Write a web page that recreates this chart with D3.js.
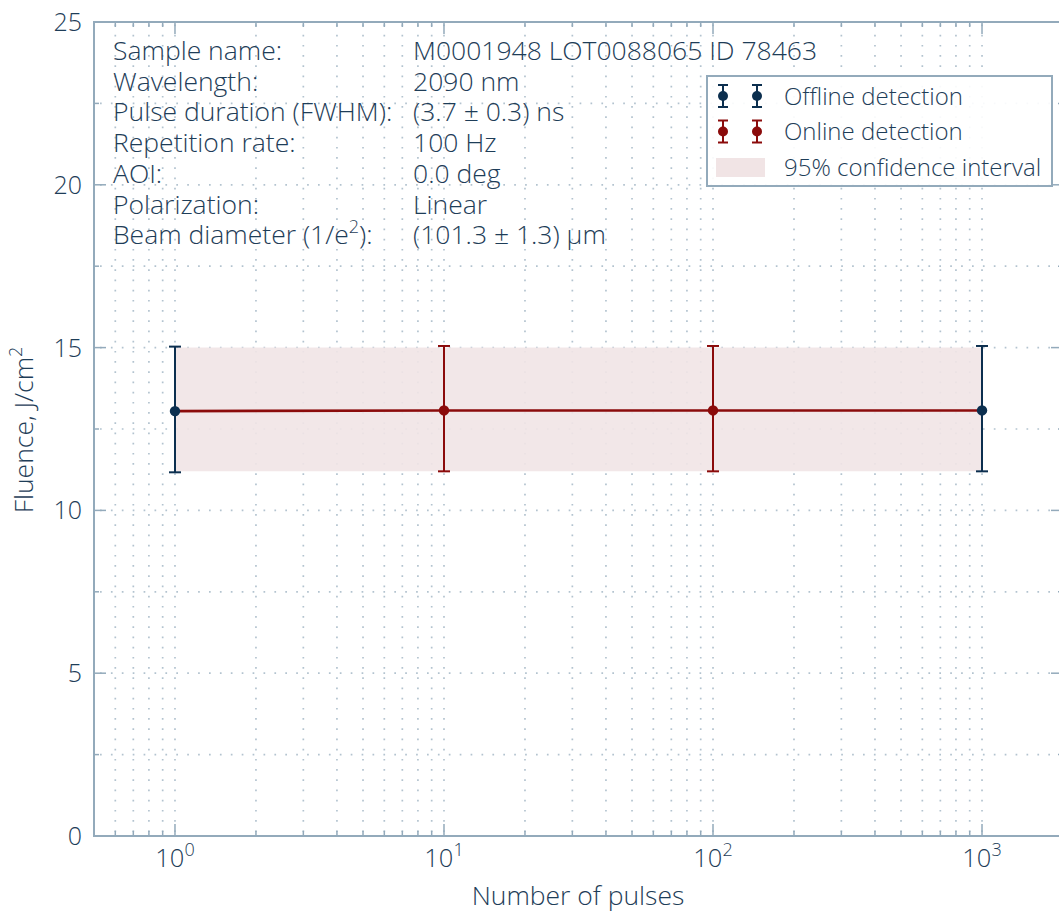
<!DOCTYPE html>
<html><head><meta charset="utf-8">
<script src="https://cdn.jsdelivr.net/npm/d3@7"></script>
<style>
body{margin:0;background:#fff;}
text{font-family:"Open Sans",sans-serif;font-weight:300;}
</style></head>
<body><svg id="c" width="1059" height="913"></svg>
<script>
const pulses = [1, 10, 100, 1000];
const fluence = [13.05, 13.07, 13.07, 13.07];
const errLow = [11.17, 11.2, 11.2, 11.2];
const errHigh = [15.03, 15.05, 15.05, 15.05];
const detection = ["Offline detection", "Online detection", "Online detection", "Offline detection"];
const ciPulses = [1, 1000];
const ciLow = [11.2, 11.2];
const ciHigh = [15.0, 15.0];
const yTicks = [0, 5, 10, 15, 20, 25];
const xTickExps = [0, 1, 2, 3];
const infoLabels = ["Sample name:", "Wavelength:", "Pulse duration (FWHM):", "Repetition rate:", "AOI:", "Polarization:", "Beam diameter (1/e²):"];
const infoValues = ["M0001948 LOT0088065 ID 78463", "2090 nm", "(3.7 ± 0.3) ns", "100 Hz", "0.0 deg", "Linear", "(101.3 ± 1.3) µm"];
const legendItems = ["Offline detection", "Online detection", "95% confidence interval"];

const C_TEXT = "#1e3d58", C_AXIS = "#93aabb", C_GRID = "#b3c3cf";
const C_OFF = "#0c2f4f", C_ON = "#8b0b0b", C_CI = "#f1e4e5";
const colorOf = {"Offline detection": C_OFF, "Online detection": C_ON};

const svg = d3.select("#c");
const L = 94, R = 1063, T = 22, B = 836;
const x = d3.scaleLog().domain([0.5, 2000]).range([L, R]);
const y = d3.scaleLinear().domain([0, 25]).range([B, T]);

// grid
const minorX = [];
for (let e = -1; e <= 3; e++) for (let k = 1; k <= 9; k++) { const v = k * Math.pow(10, e); if (v >= 0.5 && v <= 2000) minorX.push(v); }
const g = svg.append("g");
g.selectAll("line.vx").data(minorX).join("line")
  .attr("x1", d => x(d)).attr("x2", d => x(d)).attr("y1", B).attr("y2", T)
  .attr("stroke", C_GRID).attr("stroke-width", 1.7).attr("stroke-dasharray", "1.7,8.5").attr("stroke-dashoffset", -4);
const gridY = d3.range(0, 25.01, 2.5);
g.selectAll("line.hy").data(gridY).join("line")
  .attr("x1", L).attr("x2", R).attr("y1", d => y(d)).attr("y2", d => y(d))
  .attr("stroke", C_GRID).attr("stroke-width", 1.7).attr("stroke-dasharray", "1.7,9.2").attr("stroke-dashoffset", -6);

// CI band
const area = d3.area().x(d => x(d[0])).y0(d => y(d[1])).y1(d => y(d[2]));
svg.append("path").datum(ciPulses.map((p, i) => [p, ciLow[i], ciHigh[i]]))
  .attr("d", area).attr("fill", C_CI).attr("fill-opacity", 0.9);

// line
const line = d3.line().x(d => x(d[0])).y(d => y(d[1]));
svg.append("path").datum(pulses.map((p, i) => [p, fluence[i]]))
  .attr("d", line).attr("fill", "none").attr("stroke", C_ON).attr("stroke-width", 2.6);

// error bars
const pts = pulses.map((p, i) => ({p, f: fluence[i], lo: errLow[i], hi: errHigh[i], c: colorOf[detection[i]]}));
const eb = svg.append("g").selectAll("g").data(pts).join("g");
eb.append("line").attr("x1", d => x(d.p)).attr("x2", d => x(d.p)).attr("y1", d => y(d.lo)).attr("y2", d => y(d.hi)).attr("stroke", d => d.c).attr("stroke-width", 2);
eb.append("line").attr("x1", d => x(d.p) - 6).attr("x2", d => x(d.p) + 6).attr("y1", d => y(d.lo)).attr("y2", d => y(d.lo)).attr("stroke", d => d.c).attr("stroke-width", 2);
eb.append("line").attr("x1", d => x(d.p) - 6).attr("x2", d => x(d.p) + 6).attr("y1", d => y(d.hi)).attr("y2", d => y(d.hi)).attr("stroke", d => d.c).attr("stroke-width", 2);
eb.append("circle").attr("cx", d => x(d.p)).attr("cy", d => y(d.f)).attr("r", 5.2).attr("fill", d => d.c);

// frame
svg.append("rect").attr("x", L).attr("y", T).attr("width", R - L).attr("height", B - T)
  .attr("fill", "none").attr("stroke", C_AXIS).attr("stroke-width", 2);

// ticks (inward, mirrored)
const majorX = xTickExps.map(e => Math.pow(10, e));
const tk = svg.append("g").attr("stroke", C_AXIS).attr("stroke-width", 1.5);
minorX.forEach(v => {
  const len = majorX.includes(v) ? 12 : 5;
  tk.append("line").attr("x1", x(v)).attr("x2", x(v)).attr("y1", B).attr("y2", B - len);
  tk.append("line").attr("x1", x(v)).attr("x2", x(v)).attr("y1", T).attr("y2", T + len);
});
gridY.forEach(v => {
  const len = yTicks.includes(v) ? 12 : 5;
  tk.append("line").attr("y1", y(v)).attr("y2", y(v)).attr("x1", L).attr("x2", L + len);
  tk.append("line").attr("y1", y(v)).attr("y2", y(v)).attr("x1", R).attr("x2", R - len);
});

// y tick labels
svg.append("g").selectAll("text").data(yTicks).join("text")
  .attr("x", 82).attr("y", d => y(d) + 9).attr("text-anchor", "end")
  .attr("font-size", 25).attr("fill", C_TEXT).text(d => d);

// x tick labels
const xl = svg.append("g").selectAll("text").data(xTickExps).join("text")
  .attr("x", d => x(Math.pow(10, d))).attr("y", 867).attr("text-anchor", "middle")
  .attr("font-size", 25.5).attr("fill", C_TEXT);
xl.append("tspan").text("10");
xl.append("tspan").attr("dy", -11).attr("font-size", 18).text(d => d);

// axis titles
svg.append("text").attr("x", 578).attr("y", 905).attr("text-anchor", "middle")
  .attr("font-size", 26.5).attr("fill", C_TEXT).text("Number of pulses");
const yt = svg.append("text").attr("transform", "translate(33,430) rotate(-90)").attr("text-anchor", "middle")
  .attr("font-size", 26.5).attr("fill", C_TEXT);
yt.append("tspan").text("Fluence, J/cm");
yt.append("tspan").attr("dy", -11).attr("font-size", 18).text("2");

// info block
const info = svg.append("g");
infoLabels.forEach((t, i) => {
  const ty = 60 + i * 30.7;
  const tx = info.append("text").attr("x", 113).attr("y", ty).attr("font-size", 26.5).attr("fill", C_TEXT);
  if (t.includes("²")) {
    const [a, b] = t.split("²");
    tx.append("tspan").text(a);
    tx.append("tspan").attr("dy", -11).attr("font-size", 18).text("2");
    tx.append("tspan").attr("dy", 11).text(b);
  } else tx.text(t);
  info.append("text").attr("x", 413).attr("y", ty).attr("font-size", 26.5).attr("fill", C_TEXT).text(infoValues[i]);
});

// legend
const lg = svg.append("g");
lg.append("rect").attr("x", 707).attr("y", 76).attr("width", 345).attr("height", 110)
  .attr("fill", "#fff").attr("fill-opacity", 0.9).attr("stroke", C_AXIS).attr("stroke-width", 2);
legendItems.forEach((t, i) => {
  const cy = 96 + i * 35.5;
  if (i < 2) {
    const c = colorOf[t];
    [723, 757].forEach(cx => {
      lg.append("line").attr("x1", cx).attr("x2", cx).attr("y1", cy - 11).attr("y2", cy + 11).attr("stroke", c).attr("stroke-width", 2);
      lg.append("line").attr("x1", cx - 5).attr("x2", cx + 5).attr("y1", cy - 11).attr("y2", cy - 11).attr("stroke", c).attr("stroke-width", 2);
      lg.append("line").attr("x1", cx - 5).attr("x2", cx + 5).attr("y1", cy + 11).attr("y2", cy + 11).attr("stroke", c).attr("stroke-width", 2);
      lg.append("circle").attr("cx", cx).attr("cy", cy).attr("r", 5).attr("fill", c);
    });
  } else {
    lg.append("rect").attr("x", 716).attr("y", cy - 9).attr("width", 49).attr("height", 19).attr("fill", C_CI);
  }
  lg.append("text").attr("x", 784).attr("y", cy + 8.5).attr("font-size", 24).attr("fill", C_TEXT).text(t);
});
</script></body></html>
